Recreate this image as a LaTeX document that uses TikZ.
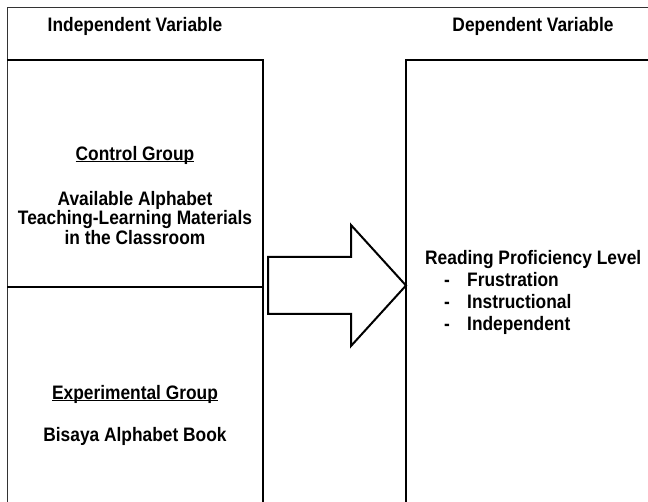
\documentclass[tikz,border=0pt]{standalone}
\usepackage{fontspec}
\setmainfont{Liberation Sans}
\newfontfamily\narrowsans[FakeStretch=0.89]{Liberation Sans}
\usepackage{tikz}
\usetikzlibrary{positioning, calc}
\colorlet{frameline}{black!80}
\newcommand{\grpline}[1]{\setbox0\hbox{#1}\rlap{\rule[-2.2pt]{\wd0}{0.9pt}}\box0}

\begin{document}
\begin{tikzpicture}[x=1pt, y=-1pt,
    lbl/.style={font=\narrowsans\fontsize{19.5}{18}\selectfont\bfseries, inner sep=0pt, align=center},
    boxline/.style={draw=black, line width=1.1pt},
    blockarrow/.style={draw=black, fill=white, line width=2pt, line join=miter}]
  \useasboundingbox (0,0) rectangle (648,502);
  % --- outer frame (open at right and bottom) ---
  \draw[frameline, line width=1pt] (648,8) -- (7,8) -- (7,502);
  % --- variable headings ---
  \node[lbl] (indep) at (135,26) {Independent Variable};
  \node[lbl] (dep)   at (533,26) {Dependent Variable};
  % --- independent variable boxes ---
  \draw[boxline] (7,60) -- (263,60) -- (263,502);
  \draw[boxline] (7,287) -- (263,287);
  \node[lbl] (ctrl)    at (135,155) {\grpline{Control Group}};
  \node[lbl] (ctrltxt) at (135,218) {Available Alphabet\\Teaching-Learning Materials\\in the Classroom};
  \node[lbl] (expt)    at (135,394) {\grpline{Experimental Group}};
  \node[lbl] (expttxt) at (135,436) {Bisaya Alphabet Book};
  % --- dependent variable box ---
  \draw[boxline] (648,60) -- (406,60) -- (406,502);
  \node[lbl, anchor=base west] (rpl) at (425,265) {Reading Proficiency Level};
  \foreach \y/\lv in {287/Frustration, 309/Instructional, 331/Independent} {
    \node[lbl, anchor=base west] (dash\lv) at (444,\y) {-};
    \node[lbl, anchor=base west] (lv\lv) at (467,\y) {\lv};
  }
  % --- block arrow from IV to DV ---
  \coordinate (tip) at (406,285.5);
  \draw[blockarrow] (268,257) -- (351,257) -- (351,225) -- (tip)
        -- (351,346) -- (351,314) -- (268,314) -- cycle;
\end{tikzpicture}
\end{document}
